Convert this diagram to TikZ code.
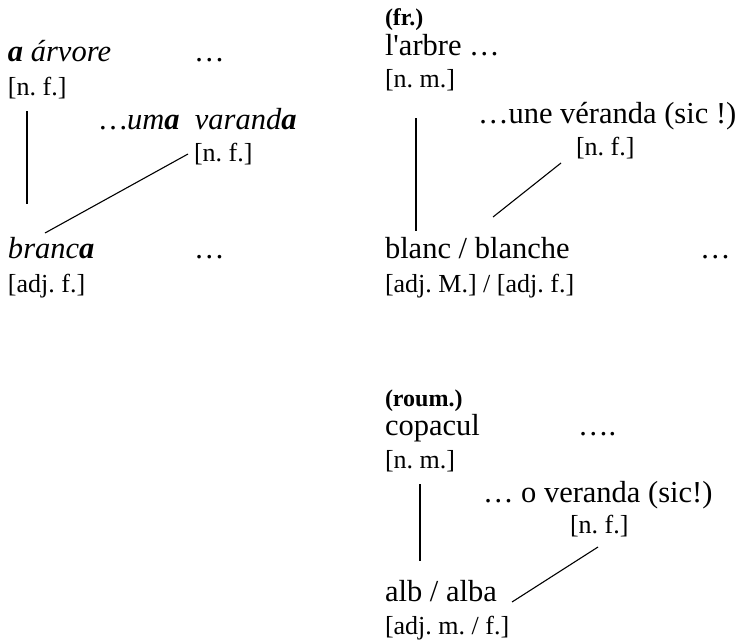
\documentclass[tikz,border=0pt]{standalone}
\usepackage{fontspec}
\setmainfont{Liberation Serif}
\newfontfamily\plainserif{Liberation Serif}
\frenchspacing
\begin{document}
\begin{tikzpicture}[x=1pt,y=-1pt,
  every node/.style={inner sep=0pt,outer sep=0pt,anchor=base west},
  word/.style={font=\fontsize{30.5}{32}\selectfont},
  gram/.style={font=\fontsize{26}{28}\selectfont},
  lang/.style={font=\fontsize{24}{26}\selectfont\bfseries},
  link/.style={line width=1.1pt}]
\useasboundingbox (0,0) rectangle (746,643);
% left column (Portuguese)
\node[word] (pa) at (8,61) {\textit{\textbf{a} árvore}};
\node[word] (pad) at (194,61) {…};
\node[gram] (pnf) at (8,95) {[n. f.]};
\node[word] (pv) at (100,129) {\textit{…um\textbf{a}\ \ varand\textbf{a}}};
\node[gram] (pvnf) at (194,161) {[n. f.]};
\node[word] (pb) at (8,258) {\textit{branc\textbf{a}}};
\node[word] (pbd) at (194,258) {…};
\node[gram] (padj) at (8,292) {[adj. f.]};
\coordinate (p1) at (27,111);
\coordinate (p2) at (27,204);
\coordinate (p3) at (188,154);
\coordinate (p4) at (45,233);
\draw[link] (p1) -- (p2);
\draw[link] (p3) -- (p4);
% right column (French)
\node[lang] (fl) at (385,25) {(fr.)};
\node[word] (fa) at (385,55) {l{\plainserif '}arbre …};
\node[gram] (fnm) at (385,87) {[n. m.]};
\node[word] (fv) at (478,123) {…une véranda (sic !)};
\node[gram] (fvnf) at (576,155) {[n. f.]};
\node[word] (fb) at (385,258) {blanc / blanche};
\node[word] (fbd) at (700,258) {…};
\node[gram] (fadj) at (385,292) {[adj. M.] / [adj. f.]};
\coordinate (f1) at (416,118);
\coordinate (f2) at (416,231);
\coordinate (f3) at (561,163);
\coordinate (f4) at (493,217);
\draw[link] (f1) -- (f2);
\draw[link] (f3) -- (f4);
% right column (Romanian)
\node[lang] (rl) at (385,406) {(roum.)};
\node[word] (rc) at (385,435) {copacul};
\node[word] (rcd) at (578,435) {….};
\node[gram] (rnm) at (385,468) {[n. m.]};
\node[word] (rv) at (483,502) {… o veranda (sic!)};
\node[gram] (rvnf) at (570,533) {[n. f.]};
\node[word] (ra) at (385,601) {alb / alba};
\node[gram] (radj) at (385,634) {[adj. m. / f.]};
\coordinate (r1) at (420,484);
\coordinate (r2) at (420,561);
\coordinate (r3) at (598,547);
\coordinate (r4) at (512,602);
\draw[link] (r1) -- (r2);
\draw[link] (r3) -- (r4);
\end{tikzpicture}
\end{document}
